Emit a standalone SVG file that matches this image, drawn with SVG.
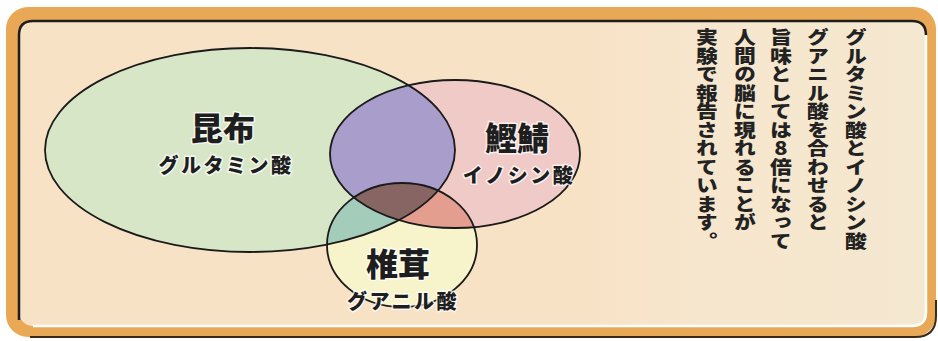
<svg xmlns="http://www.w3.org/2000/svg" width="938" height="341" viewBox="0 0 938 341">
  <defs>
    <style>
      .lbl { font-family: "Noto Sans CJK JP", "Noto Sans", sans-serif; font-weight: 900; fill: #1e1e1e; text-anchor: middle; stroke: #ffffff; stroke-opacity: 0.75; stroke-width: 3; paint-order: stroke; stroke-linejoin: round; }
      .big { font-size: 32px; }
      .small { font-size: 20px; letter-spacing: 2.5px; }
      .vt { font-family: "Noto Sans CJK JP", "Noto Sans", sans-serif; font-weight: 900; font-size: 18.5px; fill: #222; writing-mode: vertical-rl; text-orientation: upright; }
      .outline { fill: none; stroke: #1a1a1a; stroke-width: 1.8; }
    </style>
    <linearGradient id="panelGrad" x1="0" y1="0" x2="1" y2="0">
      <stop offset="0" stop-color="#F8E2C6"/>
      <stop offset="0.62" stop-color="#F8E2C6"/>
      <stop offset="0.75" stop-color="#F6E6CD"/>
      <stop offset="1" stop-color="#F5E8D0"/>
    </linearGradient>
    <clipPath id="cGreen"><ellipse cx="250" cy="150" rx="205" ry="102"/></clipPath>
    <clipPath id="cPink"><ellipse cx="455" cy="154" rx="125" ry="74"/></clipPath>
  </defs>

  <g id="frame">
    <rect x="6" y="7" width="930" height="330" rx="22" fill="#E9A855"/>
    <path d="M 936 300 L 936 316 Q 936 337 915 337 L 30 337" fill="none" stroke="#3a2a1a" stroke-width="2"/>
    <rect x="19" y="21" width="907" height="305" rx="14" fill="url(#panelGrad)"/>
    <path d="M 19 320 L 19 35 Q 19 21 33 21 L 912 21 Q 926 21 926 35" fill="none" stroke="#1e1e1e" stroke-width="2.5"/>
    <path d="M 926 35 L 926 312 Q 926 326 912 326 L 33 326" fill="none" stroke="#ffffff" stroke-width="2.5"/>
  </g>

  <g id="venn">
    <g id="kombu">
      <ellipse cx="250" cy="150" rx="205" ry="102" fill="#D7E6C6"/>
    </g>
    <g id="katsuobushi">
      <ellipse cx="455" cy="154" rx="125" ry="74" fill="#F0CAC6"/>
      <ellipse cx="455" cy="154" rx="125" ry="74" fill="#A99DCB" clip-path="url(#cGreen)"/>
    </g>
    <g id="shiitake">
      <ellipse cx="402" cy="245" rx="75" ry="62" fill="#F7F3CB"/>
      <ellipse cx="402" cy="245" rx="75" ry="62" fill="#A3CDBA" clip-path="url(#cGreen)"/>
      <ellipse cx="402" cy="245" rx="75" ry="62" fill="#E39E90" clip-path="url(#cPink)"/>
      <g clip-path="url(#cGreen)">
        <ellipse cx="402" cy="245" rx="75" ry="62" fill="#866562" clip-path="url(#cPink)"/>
      </g>
    </g>
    <g id="outlines">
      <ellipse class="outline" cx="250" cy="150" rx="205" ry="102"/>
      <ellipse class="outline" cx="455" cy="154" rx="125" ry="74"/>
      <ellipse class="outline" cx="402" cy="245" rx="75" ry="62"/>
    </g>
  </g>

  <g id="labels">
    <text class="lbl big" x="223" y="140">昆布</text>
    <text class="lbl small" x="226" y="173">グルタミン酸</text>
    <text class="lbl big" x="517" y="150">鰹鯖</text>
    <text class="lbl small" x="519" y="183">イノシン酸</text>
    <text class="lbl big" x="398" y="276">椎茸</text>
    <text class="lbl small" x="403" y="309">グアニル酸</text>
  </g>

  <g id="note">
    <text class="vt" transform="translate(856,28) scale(1.18,1)" x="0" y="0">グルタミン酸とイノシン酸</text>
    <text class="vt" transform="translate(818,28) scale(1.18,1)" x="0" y="0">グアニル酸を合わせると</text>
    <text class="vt" transform="translate(781,28) scale(1.18,1)" x="0" y="0">旨味としては8倍になって</text>
    <text class="vt" transform="translate(745,28) scale(1.18,1)" x="0" y="0">人間の脳に現れることが</text>
    <text class="vt" transform="translate(707,28) scale(1.18,1)" x="0" y="0">実験で報告されています。</text>
  </g>
</svg>
